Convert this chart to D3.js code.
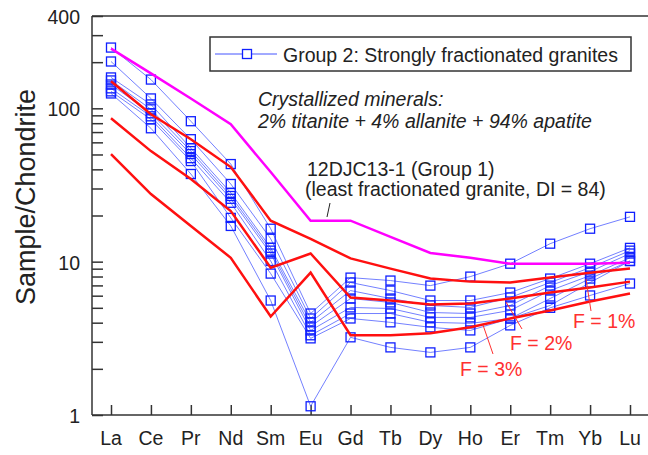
<!DOCTYPE html>
<html>
<head>
<meta charset="utf-8">
<script src="https://cdn.jsdelivr.net/npm/d3@7"></script>
<style>
    body { margin: 0; background: #fff; }
    text { font-family: "Liberation Sans", Arial, sans-serif; }
</style>
</head>
<body>
<script>
// REE elements on the x axis
var elements = ["La", "Ce", "Pr", "Nd", "Sm", "Eu", "Gd", "Tb", "Dy", "Ho", "Er", "Tm", "Yb", "Lu"];

// Group 2 samples (blue, squares)
var group2 = [
    [249, 154, 82.4, 43.3, 16.4, 4.59, 7.87, 7.53, 6.98, 7.99, 9.70, 13.1, 16.4, 19.6],
    [202, 116, 62.9, 32.1, 14.1, 4.26, 7.31, 6.48, 5.58, 5.58, 6.29, 7.76, 9.70, 12.3],
    [159, 106, 55.0, 28.1, 12.3, 4.02, 6.48, 5.75, 5.18, 5.03, 5.84, 7.31, 9.14, 11.8],
    [152, 98.5, 52.6, 26.8, 11.8, 3.78, 5.75, 5.42, 4.66, 4.59, 5.18, 6.98, 8.61, 11.3],
    [143, 92.8, 50.3, 25.7, 11.3, 3.56, 5.03, 4.95, 4.33, 4.33, 4.81, 6.48, 8.11, 10.6],
    [135, 88.7, 47.3, 24.2, 10.1, 3.31, 4.59, 4.59, 4.02, 3.96, 4.26, 5.75, 7.76, 10.1],
    [129, 84.8, 45.3, 19.3, 8.36, 3.16, 4.26, 4.02, 3.73, 3.56, 4.26, 5.18, 7.31, 10.1],
    [125, 74.1, 37.3, 17.1, 5.58, 1.14, 3.21, 2.76, 2.56, 2.76, 3.84, 5.0, 6.02, 7.20]
];

// 12DJC13-1 (group 1, magenta)
var sample12DJC = [245, 169, 116, 78.7, 38.4, 18.5, 18.5, 14.5, 11.4, 10.6, 9.70, 9.70, 9.70, 9.85];

// fractional crystallization models (red)
var modelF1 = [150, 91.4, 62.9, 41.4, 18.5, 14.1, 10.5, 9.01, 7.76, 7.41, 7.31, 7.87, 8.48, 9.01];
var modelF2 = [86.1, 52.6, 34.6, 21.4, 9.14, 11.3, 5.84, 5.58, 5.26, 5.34, 5.75, 6.29, 6.78, 7.41];
var modelF3 = [50.3, 27.6, 17.1, 10.6, 4.39, 8.48, 3.31, 3.31, 3.41, 3.73, 4.26, 4.81, 5.50, 6.20];

var yTickLabels = [1, 10, 100, 400];

var width = 648, height = 455;
var plotL = 92, plotR = 648, plotT = 16, plotB = 415;
var fs = 19.5;

var svg = d3.select("body").append("svg")
    .attr("width", width)
    .attr("height", height);

var x = d3.scalePoint()
    .domain(elements)
    .range([111, 630]);

var y = d3.scaleLog()
    .domain([1, 400])
    .range([plotB, plotT]);

var line = d3.line()
    .x(function(d, i) { return x(elements[i]); })
    .y(function(d) { return y(d); });

// frame
svg.append("line")
    .attr("x1", plotL).attr("x2", plotR)
    .attr("y1", plotT).attr("y2", plotT)
    .attr("stroke", "#333").attr("stroke-width", 1.5);

// y axis, ticks pointing inward
var yTicks = [];
[1, 10, 100].forEach(function(dec) {
    for (var k = 1; k <= 9; k++) {
        if (dec * k <= 400) yTicks.push(dec * k);
    }
});
var yAxis = d3.axisRight(y)
    .tickValues(yTicks)
    .tickSize(11)
    .tickFormat("");
svg.append("g")
    .attr("transform", "translate(" + plotL + ",0)")
    .call(yAxis)
    .call(function(g) {
        g.selectAll("path, line").attr("stroke", "#333").attr("stroke-width", 1.5);
        g.select(".domain").attr("d", "M0," + plotT + "V" + plotB);
    });

svg.selectAll(".ylab")
    .data(yTickLabels)
    .enter().append("text")
    .attr("class", "ylab")
    .attr("x", 80)
    .attr("y", function(d) { return y(d) + 8; })
    .attr("text-anchor", "end")
    .attr("font-size", fs)
    .attr("fill", "#222")
    .text(function(d) { return d; });

// x axis, ticks pointing up
var xAxis = d3.axisTop(x)
    .tickSize(10)
    .tickFormat("");
svg.append("g")
    .attr("transform", "translate(0," + plotB + ")")
    .call(xAxis)
    .call(function(g) {
        g.selectAll("path, line").attr("stroke", "#333").attr("stroke-width", 1.5);
        g.select(".domain").attr("d", "M" + plotL + ",0H" + plotR);
    });

svg.selectAll(".xlab")
    .data(elements)
    .enter().append("text")
    .attr("class", "xlab")
    .attr("x", function(d) { return x(d); })
    .attr("y", 445)
    .attr("text-anchor", "middle")
    .attr("font-size", fs)
    .attr("fill", "#222")
    .text(function(d) { return d; });

svg.append("text")
    .attr("transform", "translate(35,197) rotate(-90)")
    .attr("text-anchor", "middle")
    .attr("font-size", 27)
    .attr("fill", "#222")
    .text("Sample/Chondrite");

// group 2 lines + squares
svg.selectAll(".g2line")
    .data(group2)
    .enter().append("path")
    .attr("class", "g2line")
    .attr("d", line)
    .attr("fill", "none")
    .attr("stroke", "#4455ff")
    .attr("stroke-opacity", 0.75)
    .attr("stroke-width", 1);

group2.forEach(function(s) {
    svg.selectAll(null)
        .data(s)
        .enter().append("rect")
        .attr("x", function(d, i) { return x(elements[i]) - 4.5; })
        .attr("y", function(d) { return y(d) - 4.5; })
        .attr("width", 9)
        .attr("height", 9)
        .attr("fill", "none")
        .attr("stroke", "#1020ff")
        .attr("stroke-width", 1.3);
});

// magenta sample
svg.append("path")
    .attr("d", line(sample12DJC))
    .attr("fill", "none")
    .attr("stroke", "#ff00ff")
    .attr("stroke-width", 2.5);

// red models
svg.selectAll(".model")
    .data([modelF1, modelF2, modelF3])
    .enter().append("path")
    .attr("class", "model")
    .attr("d", line)
    .attr("fill", "none")
    .attr("stroke", "#ff1010")
    .attr("stroke-width", 2.5);

// legend
svg.append("rect")
    .attr("x", 210).attr("y", 37)
    .attr("width", 421).attr("height", 34)
    .attr("fill", "#fff")
    .attr("stroke", "#333").attr("stroke-width", 1.5);
svg.append("line")
    .attr("x1", 215).attr("x2", 277)
    .attr("y1", 54).attr("y2", 54)
    .attr("stroke", "#4455ff").attr("stroke-width", 1);
svg.append("rect")
    .attr("x", 242.5).attr("y", 49.5)
    .attr("width", 9).attr("height", 9)
    .attr("fill", "#fff")
    .attr("stroke", "#1020ff").attr("stroke-width", 1.3);
svg.append("text")
    .attr("x", 283).attr("y", 62)
    .attr("font-size", fs)
    .attr("fill", "#222")
    .text("Group 2: Strongly fractionated granites");

// annotations
svg.append("text")
    .attr("x", 258).attr("y", 106)
    .attr("font-size", fs).attr("font-style", "italic")
    .attr("fill", "#222")
    .text("Crystallized minerals:");
svg.append("text")
    .attr("x", 258).attr("y", 128)
    .attr("font-size", fs).attr("font-style", "italic")
    .attr("fill", "#222")
    .text("2% titanite + 4% allanite + 94% apatite");

svg.append("text")
    .attr("x", 307).attr("y", 176)
    .attr("font-size", fs)
    .attr("fill", "#222")
    .text("12DJC13-1 (Group 1)");
svg.append("text")
    .attr("x", 305).attr("y", 196)
    .attr("font-size", fs)
    .attr("fill", "#222")
    .text("(least fractionated granite, DI = 84)");
svg.append("line")
    .attr("x1", 330).attr("y1", 203)
    .attr("x2", 327).attr("y2", 217)
    .attr("stroke", "#222").attr("stroke-width", 1);

// F labels
var fLabels = [
    { t: "F = 1%", x: 573, y: 328, x1: 586, y1: 279, x2: 591, y2: 311 },
    { t: "F = 2%", x: 510, y: 350, x1: 506, y1: 302, x2: 522, y2: 329 },
    { t: "F = 3%", x: 460, y: 376, x1: 483, y1: 325, x2: 493, y2: 354 }
];
svg.selectAll(".fl")
    .data(fLabels)
    .enter().append("line")
    .attr("x1", function(d) { return d.x1; })
    .attr("y1", function(d) { return d.y1; })
    .attr("x2", function(d) { return d.x2; })
    .attr("y2", function(d) { return d.y2; })
    .attr("stroke", "#ff3030").attr("stroke-width", 1);
svg.selectAll(".ft")
    .data(fLabels)
    .enter().append("text")
    .attr("x", function(d) { return d.x; })
    .attr("y", function(d) { return d.y; })
    .attr("font-size", fs)
    .attr("fill", "#ff3030")
    .text(function(d) { return d.t; });
</script>
</body>
</html>
